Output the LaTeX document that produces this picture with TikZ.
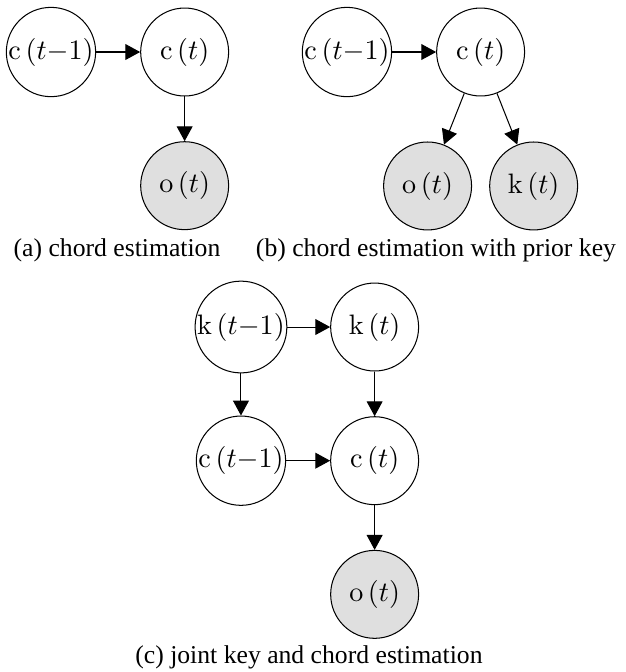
\documentclass[tikz,border=0pt]{standalone}
\usepackage[no-math]{fontspec}
\setmainfont{Liberation Serif}
\usepackage{tikz}
\usetikzlibrary{arrows.meta,positioning}

\begin{document}
\begin{tikzpicture}[
  node distance=1.83cm, on grid,
  var/.style={draw, circle, minimum size=1.204cm, inner sep=0pt, font=\fontsize{10.5}{12}\selectfont},
  obs/.style={var, fill=gray!25},
  arrow/.style={-{Triangle[length=5.8pt,width=6.2pt]}},
  subcap/.style={font=\fontsize{10}{12}\selectfont},
]
  \useasboundingbox (-0.698,0.712) rectangle (7.872,-8.488);

  \node[var] (ca-prev) at (0,0) {$\mathrm{c}\,(t{-}1)$};
  \node[var, right=of ca-prev] (ca) {$\mathrm{c}\,(t)$};
  \node[obs, below=of ca] (oa) {$\mathrm{o}\,(t)$};
  \node[subcap] (cap-a) at (0.904,-2.711) {(a) chord estimation};

  \node[var] (cb-prev) at (4.052,0) {$\mathrm{c}\,(t{-}1)$};
  \node[var, right=of cb-prev] (cb) {$\mathrm{c}\,(t)$};
  \node[obs, below left=1.834cm and 0.726cm of cb] (ob) {$\mathrm{o}\,(t)$};
  \node[obs, below right=1.834cm and 0.726cm of cb] (kb) {$\mathrm{k}\,(t)$};
  \node[subcap] (cap-b) at (5.271,-2.711) {(b) chord estimation with prior key};

  \node[var] (kc-prev) at (2.601,-3.765) {$\mathrm{k}\,(t{-}1)$};
  \node[var, right=of kc-prev] (kc) {$\mathrm{k}\,(t)$};
  \node[var, below=of kc-prev] (cc-prev) {$\mathrm{c}\,(t{-}1)$};
  \node[var, below=of kc] (cc) {$\mathrm{c}\,(t)$};
  \node[obs, below=of cc] (oc) {$\mathrm{o}\,(t)$};
  \node[subcap] (cap-c) at (3.532,-8.282) {(c) joint key and chord estimation};

  \draw[arrow] (ca-prev) -- (ca);
  \draw[arrow] (ca) -- (oa);
  \draw[arrow] (cb-prev) -- (cb);
  \draw[arrow] (cb) -- (ob);
  \draw[arrow] (cb) -- (kb);
  \draw[arrow] (kc-prev) -- (kc);
  \draw[arrow] (kc-prev) -- (cc-prev);
  \draw[arrow] (kc) -- (cc);
  \draw[arrow] (cc-prev) -- (cc);
  \draw[arrow] (cc) -- (oc);
\end{tikzpicture}
\end{document}
